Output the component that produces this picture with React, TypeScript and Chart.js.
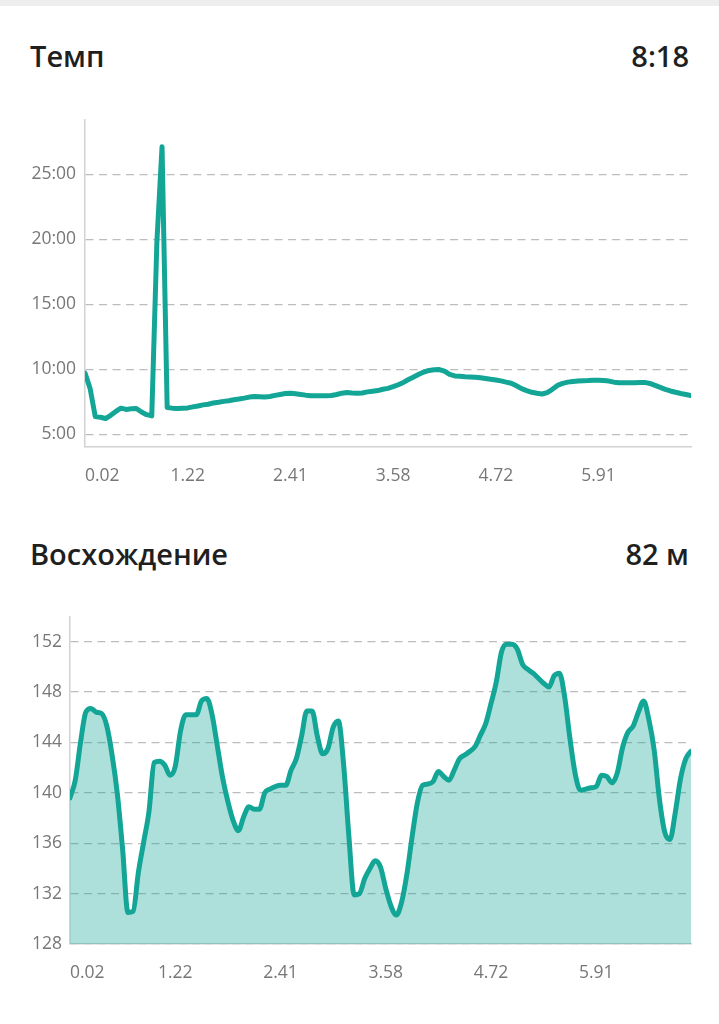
import React, { useEffect, useRef } from "react";
import { Chart, registerables } from "chart.js";

Chart.register(...registerables);

// Distance labels shown under every 20th sample
const tickLabels = ["0.02", "1.22", "2.41", "3.58", "4.72", "5.91"];
const samplesPerTick = 20;

// Pace in minutes per km, one value per sample
const paceMinutes = [
  9.7, 8.5, 6.35, 6.3, 6.2, 6.45, 6.75, 7.0, 6.9, 6.95,
  6.97, 6.7, 6.5, 6.4, 19.8, 27.1, 7.05, 7.0, 6.97, 7.0,
  7.02, 7.1, 7.17, 7.25, 7.3, 7.4, 7.45, 7.52, 7.57, 7.65,
  7.7, 7.77, 7.85, 7.9, 7.88, 7.86, 7.9, 7.98, 8.05, 8.12,
  8.15, 8.1, 8.05, 8.0, 7.96, 7.95, 7.95, 7.95, 7.97, 8.05,
  8.15, 8.2, 8.17, 8.15, 8.17, 8.25, 8.3, 8.35, 8.45, 8.52,
  8.65, 8.8, 8.98, 9.2, 9.4, 9.6, 9.78, 9.9, 9.95, 9.97,
  9.85, 9.6, 9.48, 9.45, 9.42, 9.4, 9.37, 9.34, 9.28, 9.22,
  9.17, 9.1, 9.0, 8.92, 8.72, 8.5, 8.35, 8.22, 8.14, 8.09,
  8.2, 8.45, 8.75, 8.9, 9.0, 9.05, 9.08, 9.1, 9.12, 9.15,
  9.15, 9.12, 9.08, 9.0, 8.96, 8.95, 8.95, 8.95, 8.97, 8.98,
  8.9, 8.75, 8.6, 8.45, 8.32, 8.22, 8.13, 8.05, 7.96,
];

// Elevation in metres, one value per sample
const elevationMetres = [
  139.6, 141.0, 144.0, 146.4, 146.7, 146.4, 146.3, 145.3, 143.0, 139.9,
  135.5, 130.5, 130.6, 133.7, 136.1, 138.5, 142.4, 142.5, 142.2, 141.4,
  142.1, 144.9, 146.2, 146.2, 146.2, 147.3, 147.5, 146.2, 143.7, 141.2,
  139.3, 137.8, 137.0, 138.1, 138.9, 138.7, 138.7, 140.0, 140.3, 140.5,
  140.6, 140.6, 141.8, 142.7, 144.5, 146.5, 146.5, 144.5, 143.1, 143.5,
  145.2, 145.7, 142.2, 136.5, 131.9, 132.0, 133.2, 134.0, 134.6, 134.1,
  132.4, 131.0, 130.3, 131.3, 133.5, 136.5, 139.2, 140.6, 140.7, 140.9,
  141.7, 141.3, 141.0, 141.8, 142.7, 143.0, 143.3, 143.7, 144.6, 145.5,
  147.1, 148.8, 151.2, 151.8, 151.8, 151.4, 150.2, 149.8, 149.5, 149.1,
  148.7, 148.4, 149.3, 149.5, 147.6, 144.3, 141.5, 140.2, 140.3, 140.4,
  140.5, 141.4, 141.3, 140.8, 141.6, 143.6, 144.8, 145.3, 146.4, 147.3,
  145.8, 143.4, 139.5, 136.9, 136.3, 138.4, 141.1, 142.7, 143.3,
];

const paceAxis = { min: 4.05, max: 29.2, step: 5 };
const elevationAxis = { min: 128, max: 154, step: 4 };

const LINE = "#13a596";
const FILL = "rgba(18,165,150,0.34)";
const GRID = "#bdbdbd";
const AXIS = "#d2d2d2";
const TICK = "#777777";
const FONT = "'Open Sans', 'Noto Sans', sans-serif";

type ChartProps = {
  values: number[];
  yMin: number;
  yMax: number;
  yStep: number;
  yFormat: (v: number) => string;
  fill: boolean;
  top: number;
  height: number;
  areaTop: number;
  areaBottom: number;
  axisWidth: number;
  yPad: number;
};

function LineChart(p: ChartProps) {
  const ref = useRef<HTMLCanvasElement | null>(null);
  useEffect(() => {
    if (!ref.current) return;
    const points = p.values.map((y, i) => ({ x: i, y }));
    const padTop = p.areaTop - p.top;
    const xHeight = p.height - padTop - (p.areaBottom - p.areaTop);
    const chart = new Chart(ref.current, {
      type: "line",
      data: {
        datasets: [
          {
            data: points,
            borderColor: LINE,
            borderWidth: 5,
            pointRadius: 0,
            pointHoverRadius: 0,
            fill: p.fill ? "start" : false,
            backgroundColor: FILL,
            tension: 0,
            cubicInterpolationMode: p.fill ? "monotone" : "default",
            borderJoinStyle: "round",
            borderCapStyle: "round",
          } as any,
        ],
      },
      options: {
        responsive: false,
        maintainAspectRatio: false,
        animation: false,
        layout: { padding: { top: padTop, right: 28, left: 0, bottom: 0 } },
        plugins: { legend: { display: false }, tooltip: { enabled: false } },
        scales: {
          x: {
            type: "linear",
            min: 0,
            max: p.values.length - 1,
            grid: { display: false },
            border: { display: true, color: AXIS, width: 1.5 },
            ticks: {
              stepSize: samplesPerTick,
              align: "inner",
              autoSkip: false,
              maxRotation: 0,
              padding: 11,
              color: TICK,
              font: { family: FONT, size: 17.5 },
              callback: (v: any) => {
                const n = Number(v);
                if (n % samplesPerTick !== 0) return "";
                return tickLabels[n / samplesPerTick] ?? "";
              },
            },
            afterFit: (s: any) => {
              s.height = xHeight;
            },
          } as any,
          y: {
            min: p.yMin,
            max: p.yMax,
            grid: { color: GRID, lineWidth: 1.2, drawTicks: false },
            border: { display: true, color: AXIS, width: 1.5, dash: [8, 5.5] },
            ticks: {
              stepSize: p.yStep,
              includeBounds: false,
              padding: p.yPad,
              color: TICK,
              font: { family: FONT, size: 17.5 },
              callback: (v: any) => p.yFormat(Number(v)),
            },
            afterFit: (s: any) => {
              s.width = p.axisWidth;
            },
          } as any,
        },
      },
    });
    return () => chart.destroy();
  }, []);
  return (
    <canvas
      ref={ref}
      width={719}
      height={p.height}
      style={{ position: "absolute", left: 0, top: p.top, width: 719, height: p.height }}
    />
  );
}

const titleStyle: React.CSSProperties = {
  position: "absolute",
  fontFamily: FONT,
  fontWeight: 600,
  fontSize: 29,
  lineHeight: "29px",
  color: "#1f1f1f",
  whiteSpace: "nowrap",
};

export default function App() {
  return (
    <div
      style={{
        position: "absolute",
        left: 0,
        top: 0,
        width: 719,
        height: 1024,
        background: "#ffffff",
        overflow: "hidden",
      }}
    >
      <div style={{ position: "absolute", left: 0, top: 0, width: 719, height: 6, background: "#eeeeee" }} />
      <div style={{ ...titleStyle, left: 30, top: 41 }}>Темп</div>
      <div style={{ ...titleStyle, right: 30, top: 41 }}>8:18</div>
      <LineChart
        values={paceMinutes}
        yMin={paceAxis.min}
        yMax={paceAxis.max}
        yStep={paceAxis.step}
        yFormat={(v) => `${v}:00`}
        fill={false}
        top={100}
        height={390}
        areaTop={117}
        areaBottom={446.5}
        axisWidth={85}
        yPad={9}
      />
      <div style={{ ...titleStyle, left: 30, top: 539 }}>Восхождение</div>
      <div style={{ ...titleStyle, right: 30, top: 539 }}>82 м</div>
      <LineChart
        values={elevationMetres}
        yMin={elevationAxis.min}
        yMax={elevationAxis.max}
        yStep={elevationAxis.step}
        yFormat={(v) => `${v}`}
        fill={true}
        top={598}
        height={390}
        areaTop={615}
        areaBottom={944}
        axisWidth={70}
        yPad={8}
      />
    </div>
  );
}
